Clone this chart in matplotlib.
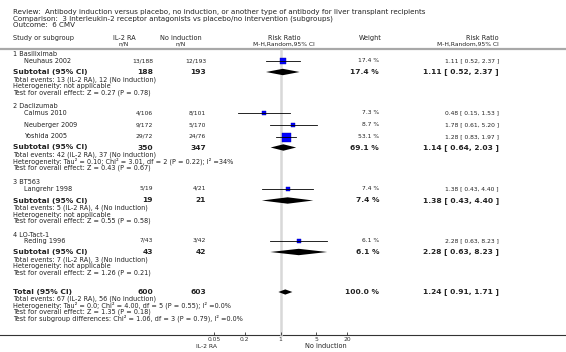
import numpy as np
import matplotlib
matplotlib.use("Agg")
import matplotlib.pyplot as plt

# ---- data ----
title_lines = [
    "Review:  Antibody induction versus placebo, no induction, or another type of antibody for liver transplant recipients",
    "Comparison:  3 Interleukin-2 receptor antagonists vs placebo/no intervention (subgroups)",
    "Outcome:  6 CMV",
]

group_names = ["1 Basiliximab", "2 Daclizumab", "3 BT563", "4 LO-Tact-1"]
study_names = ["Neuhaus 2002", "Calmus 2010", "Neuberger 2009", "Yoshida 2005", "Langrehr 1998", "Reding 1996"]
study_trt = ["13/188", "4/106", "9/172", "29/72", "5/19", "7/43"]
study_ctl = ["12/193", "8/101", "5/170", "24/76", "4/21", "3/42"]
study_weight = [17.4, 7.3, 8.7, 53.1, 7.4, 6.1]
study_rr = [1.11, 0.48, 1.78, 1.28, 1.38, 2.28]
study_lo = [0.52, 0.15, 0.61, 0.83, 0.43, 0.63]
study_hi = [2.37, 1.53, 5.20, 1.97, 4.40, 8.23]

sub_trt = [188, 350, 19, 43]
sub_ctl = [193, 347, 21, 42]
sub_weight = [17.4, 69.1, 7.4, 6.1]
sub_rr = [1.11, 1.14, 1.38, 2.28]
sub_lo = [0.52, 0.64, 0.43, 0.63]
sub_hi = [2.37, 2.03, 4.40, 8.23]
sub_notes = [
    ["Total events: 13 (IL-2 RA), 12 (No induction)",
     "Heterogeneity: not applicable",
     "Test for overall effect: Z = 0.27 (P = 0.78)"],
    ["Total events: 42 (IL-2 RA), 37 (No induction)",
     "Heterogeneity: Tau\u00b2 = 0.10; Chi\u00b2 = 3.01, df = 2 (P = 0.22); I\u00b2 =34%",
     "Test for overall effect: Z = 0.43 (P = 0.67)"],
    ["Total events: 5 (IL-2 RA), 4 (No induction)",
     "Heterogeneity: not applicable",
     "Test for overall effect: Z = 0.55 (P = 0.58)"],
    ["Total events: 7 (IL-2 RA), 3 (No induction)",
     "Heterogeneity: not applicable",
     "Test for overall effect: Z = 1.26 (P = 0.21)"],
]

tot_trt, tot_ctl = 600, 603
tot_weight = 100.0
tot_rr, tot_lo, tot_hi = 1.24, 0.91, 1.71
tot_notes = [
    "Total events: 67 (IL-2 RA), 56 (No induction)",
    "Heterogeneity: Tau\u00b2 = 0.0; Chi\u00b2 = 4.00, df = 5 (P = 0.55); I\u00b2 =0.0%",
    "Test for overall effect: Z = 1.35 (P = 0.18)",
    "Test for subgroup differences: Chi\u00b2 = 1.06, df = 3 (P = 0.79), I\u00b2 =0.0%",
]

ticks = [0.05, 0.2, 1, 5, 20]
tick_labels = ["0.05", "0.2", "1", "5", "20"]

# ---- layout (pixel rows) ----
W, H = 566, 352
fig = plt.figure(figsize=(W / 100, H / 100), dpi=100)
ax = fig.add_axes([0, 0, 1, 1])
ax.set_xlim(0, W)
ax.set_ylim(H, 0)
ax.axis("off")

# forest panel: log scale, 1 at x=280.5, ~51 px per decade
fx0, fx1 = 178.5, 382.5
fa = fig.add_axes([fx0 / W, 0, (fx1 - fx0) / W, 1])
fa.set_xscale("log")
fa.set_xlim(0.01, 100)
fa.set_ylim(H, 0)
fa.patch.set_alpha(0)
for s in ["top", "left", "right"]:
    fa.spines[s].set_visible(False)
fa.spines["bottom"].set_position(("data", 335))
fa.spines["bottom"].set_visible(False)
fa.set_yticks([])
fa.set_xticks(ticks)
fa.set_xticklabels(tick_labels)
fa.minorticks_off()
fa.tick_params(axis="x", direction="in", length=2.5, width=0.6, labelsize=4.3,
               pad=1.5, colors="#333333")

fs = 4.7       # normal text
fs_t = 5.15    # title lines
fs_s = 4.3     # small numbers
fs_b = 5.4     # bold rows
txt = "#222222"

x_lab, x_study = 13, 24
x_trt, x_ctl = 153, 206
x_w, x_rr = 379, 499

# title and header
for i, line in enumerate(title_lines):
    ax.text(x_lab, 12 + i * 6.6, line, fontsize=fs_t, va="center", color=txt)
ax.text(x_lab, 38, "Study or subgroup", fontsize=fs, va="center", color=txt)
ax.text(124, 38, "IL-2 RA", fontsize=fs, va="center", ha="center", color=txt)
ax.text(124, 44, "n/N", fontsize=fs_s, va="center", ha="center", color=txt)
ax.text(181, 38, "No induction", fontsize=fs, va="center", ha="center", color=txt)
ax.text(181, 44, "n/N", fontsize=fs_s, va="center", ha="center", color=txt)
ax.text(284, 38, "Risk Ratio", fontsize=fs, va="center", ha="center", color=txt)
ax.text(284, 44, "M-H,Random,95% CI", fontsize=fs_s, va="center", ha="center", color=txt)
ax.text(370, 38, "Weight", fontsize=fs, va="center", ha="center", color=txt)
ax.text(x_rr, 38, "Risk Ratio", fontsize=fs, va="center", ha="right", color=txt)
ax.text(x_rr, 44, "M-H,Random,95% CI", fontsize=fs_s, va="center", ha="right", color=txt)
ax.plot([0, W], [48.5, 48.5], color="#a8a8a8", lw=1.6, solid_capstyle="butt")

# row positions for each group
group_head_y = [54, 106, 182, 235]
study_y = [61, 113, 125, 136.5, 188.5, 240.5]
sub_y = [72, 147.5, 200.5, 252]
tot_y = 292

fa.plot([1, 1], [50, 335], color="#d8d8d8", lw=1.8, zorder=0)
ax.plot([0, W], [335, 335], color="#333333", lw=0.8)


def diamond(y, rr, lo, hi, h):
    fa.fill([lo, rr, hi, rr], [y, y - h, y, y + h], color="black", lw=0, zorder=3)


for g, name in enumerate(group_names):
    ax.text(x_lab, group_head_y[g], name, fontsize=fs, va="center", color=txt)

for i, name in enumerate(study_names):
    y = study_y[i]
    ax.text(x_study, y, name, fontsize=fs, va="center", color=txt)
    ax.text(x_trt, y, study_trt[i], fontsize=fs_s, va="center", ha="right", color=txt)
    ax.text(x_ctl, y, study_ctl[i], fontsize=fs_s, va="center", ha="right", color=txt)
    ax.text(x_w, y, "%.1f %%" % study_weight[i], fontsize=fs_s, va="center", ha="right", color=txt)
    ax.text(x_rr, y, "%.2f [ %.2f, %.2f ]" % (study_rr[i], study_lo[i], study_hi[i]),
            fontsize=fs_s, va="center", ha="right", color=txt)
    side = 9.0 * np.sqrt(study_weight[i] / 53.1) * 0.72
    fa.scatter([study_rr[i]], [y], marker="s", s=side ** 2, color="#0000ff",
               edgecolors="#0000aa", linewidths=0.3, zorder=3)
    fa.plot([study_lo[i], study_hi[i]], [y, y], color="black", lw=0.6, zorder=4)

for g in range(len(group_names)):
    y = sub_y[g]
    ax.text(x_lab, y, "Subtotal (95% CI)", fontsize=fs_b, fontweight="bold", va="center", color=txt)
    ax.text(x_trt, y, str(sub_trt[g]), fontsize=fs_b, fontweight="bold", va="center", ha="right", color=txt)
    ax.text(x_ctl, y, str(sub_ctl[g]), fontsize=fs_b, fontweight="bold", va="center", ha="right", color=txt)
    ax.text(x_w, y, "%.1f %%" % sub_weight[g], fontsize=fs_b, fontweight="bold", va="center", ha="right", color=txt)
    ax.text(x_rr, y, "%.2f [ %.2f, %.2f ]" % (sub_rr[g], sub_lo[g], sub_hi[g]),
            fontsize=fs_b, fontweight="bold", va="center", ha="right", color=txt)
    diamond(y, sub_rr[g], sub_lo[g], sub_hi[g], 3.2)
    for k, note in enumerate(sub_notes[g]):
        ax.text(x_lab, y + 7.5 + k * 6.5, note, fontsize=fs, va="center", color=txt)

# overall total
ax.text(x_lab, tot_y, "Total (95% CI)", fontsize=fs_b, fontweight="bold", va="center", color=txt)
ax.text(x_trt, tot_y, str(tot_trt), fontsize=fs_b, fontweight="bold", va="center", ha="right", color=txt)
ax.text(x_ctl, tot_y, str(tot_ctl), fontsize=fs_b, fontweight="bold", va="center", ha="right", color=txt)
ax.text(x_w, tot_y, "%.1f %%" % tot_weight, fontsize=fs_b, fontweight="bold", va="center", ha="right", color=txt)
ax.text(x_rr, tot_y, "%.2f [ %.2f, %.2f ]" % (tot_rr, tot_lo, tot_hi),
        fontsize=fs_b, fontweight="bold", va="center", ha="right", color=txt)
diamond(tot_y, tot_rr, tot_lo, tot_hi, 2.6)
for k, note in enumerate(tot_notes):
    ax.text(x_lab, tot_y + 7 + k * 6.5, note, fontsize=fs, va="center", color=txt)

ax.text(207, 346.5, "IL-2 RA", fontsize=fs_s, va="center", ha="center", color=txt)
ax.text(326, 346.5, "No induction", fontsize=fs, va="center", ha="center", color=txt)

fig.savefig("out.png", dpi=100)
